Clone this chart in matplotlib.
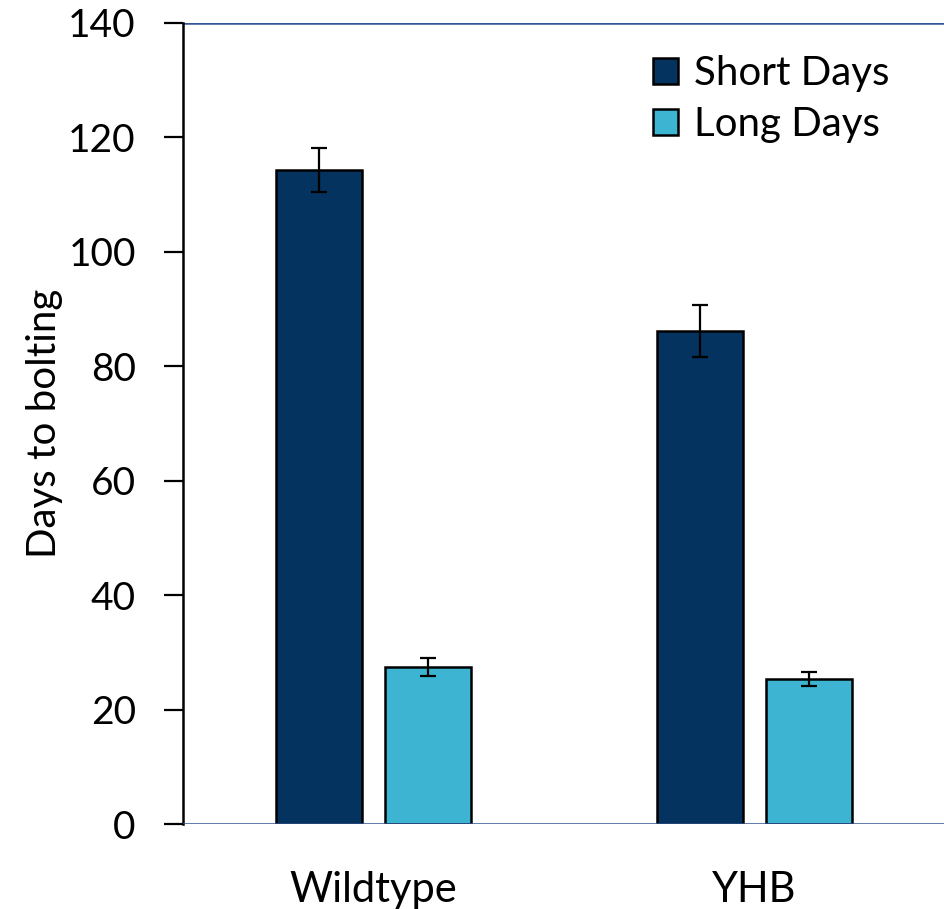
import numpy as np
import matplotlib.pyplot as plt

plt.rcParams.update({
    "font.family": ["Lato", "DejaVu Sans"],
    "font.size": 28,
})

# ========= DATA
genotypes = ["Wildtype", "YHB"]
short_days = [114.3, 86.2]
short_err = [3.9, 4.5]
long_days = [27.4, 25.3]
long_err = [1.6, 1.2]

NAVY = "#03335E"
CYAN = "#3DB5D2"
LINE_BLUE = "#2F5597"

fig = plt.figure(figsize=(9.45, 9.09), dpi=100)
ax = fig.add_axes([0.1937, 0.0935, 0.8063, 0.8812])

x = np.arange(len(genotypes))
width = 0.225
offset = 0.143

err_kw = dict(ecolor="black", elinewidth=1.6, capsize=6, capthick=1.6)
ax.bar(x - offset, short_days, width, yerr=short_err, color=NAVY,
       edgecolor="black", linewidth=1.8, label="Short Days",
       error_kw=err_kw, zorder=3)
ax.bar(x + offset, long_days, width, yerr=long_err, color=CYAN,
       edgecolor="black", linewidth=1.8, label="Long Days",
       error_kw=err_kw, zorder=3)

# thin blue rules at top and bottom of the plot area
ax.axhline(140, color=LINE_BLUE, lw=1.8, zorder=2)
ax.axhline(0, color=LINE_BLUE, lw=1.8, zorder=4)

ax.set_xlim(-0.5, 1.5)
ax.set_ylim(0, 140)
ax.set_yticks(range(0, 141, 20))
ax.set_xticks(x)
ax.set_xticklabels(genotypes, fontsize=30)
ax.tick_params(axis="x", length=0, pad=34)
ax.tick_params(axis="y", direction="out", length=14, width=1.6, pad=20,
               labelsize=28)

for side in ["top", "right"]:
    ax.spines[side].set_visible(False)
ax.spines["left"].set_linewidth(1.8)
ax.spines["bottom"].set_visible(False)

ax.set_ylabel("Days to bolting", fontsize=29, labelpad=4)

ax.legend(loc="upper right", bbox_to_anchor=(0.975, 1.005), frameon=False,
          handlelength=0.62, handleheight=0.62, handletextpad=0.4,
          labelspacing=0.35, fontsize=29)

plt.savefig("out.png", dpi=100)
plt.close()
